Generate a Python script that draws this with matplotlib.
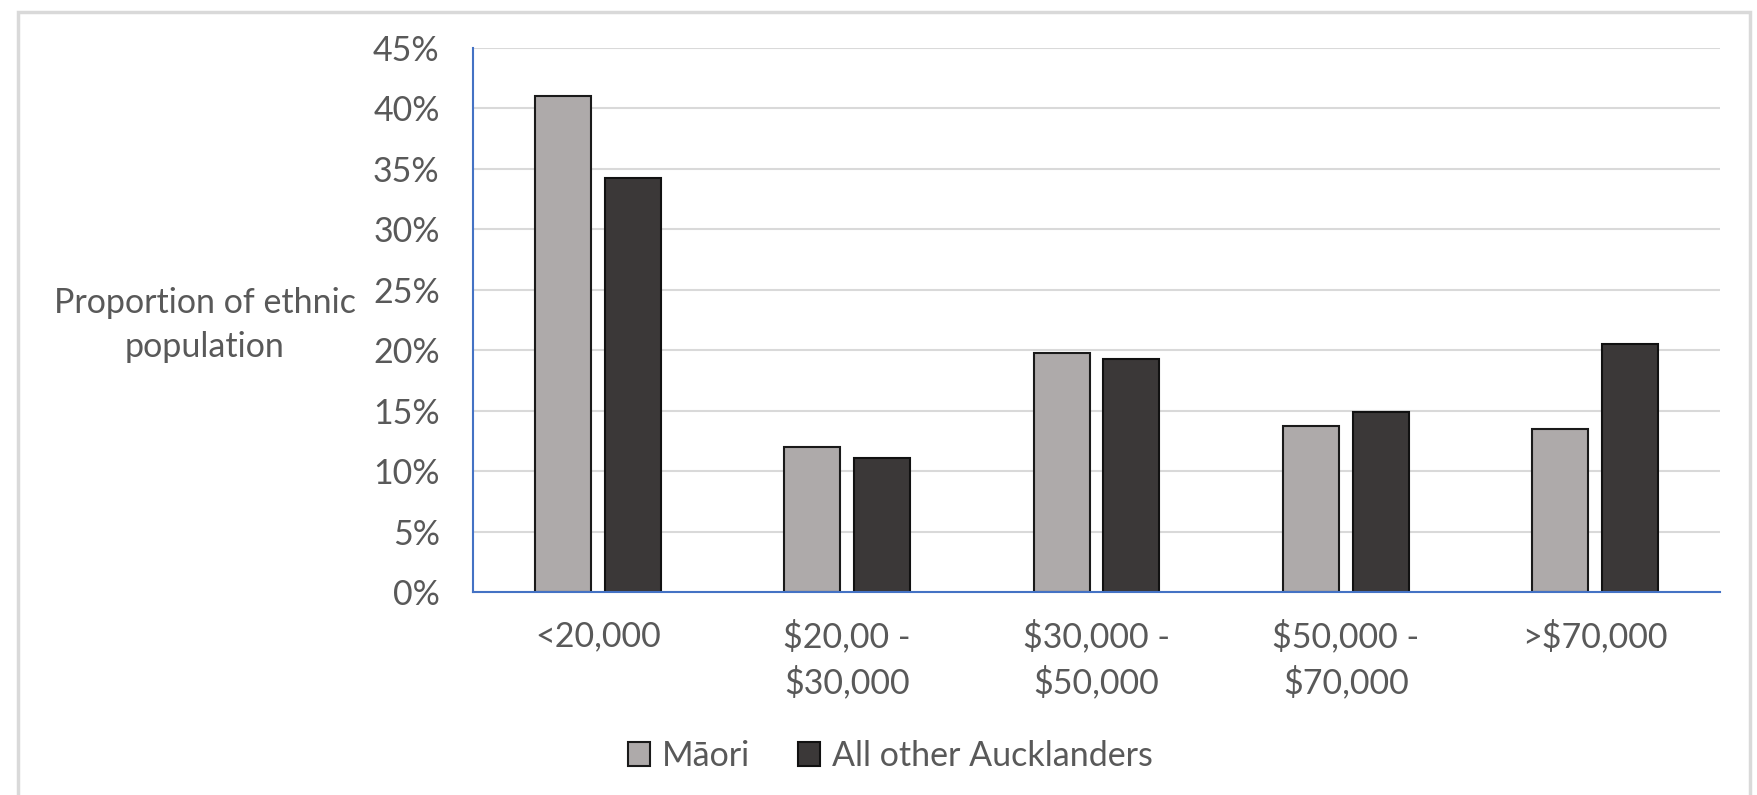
import matplotlib
matplotlib.use("Agg")
import matplotlib.pyplot as plt
import numpy as np
from matplotlib.patches import Rectangle, Patch

categories = ["<20,000", "$20,00 -\n$30,000", "$30,000 -\n$50,000", "$50,000 -\n$70,000", ">$70,000"]
maori = [41.0, 12.0, 19.8, 13.75, 13.5]
others = [34.2, 11.1, 19.3, 14.9, 20.5]
series_names = ["Māori", "All other Aucklanders"]
yticks = [0, 5, 10, 15, 20, 25, 30, 35, 40, 45]

plt.rcParams['font.family'] = ['Lato', 'DejaVu Sans']
txt = "#595959"
fs = 24.5

fig = plt.figure(figsize=(17.58, 7.95), dpi=100)
ax = fig.add_axes([473/1758, 1-592/795, (1720-473)/1758, (592-47.7)/795])

x = np.arange(len(categories))
w = 0.225
off = 0.14
ax.bar(x - off, maori, w, color="#aeaaaa", edgecolor="#1a1a1a", linewidth=1.5, label=series_names[0], zorder=3)
ax.bar(x + off, others, w, color="#3b3838", edgecolor="#111111", linewidth=1.5, label=series_names[1], zorder=3)

ax.set_xlim(-0.5, len(categories) - 0.5)
ax.set_ylim(0, 45)
ax.set_yticks(yticks)
ax.set_yticklabels([f"{v}%" for v in yticks])
ax.set_xticks(x)
ax.set_xticklabels(categories, linespacing=1.45)
ax.tick_params(axis='both', length=0, labelsize=fs, labelcolor=txt)
ax.tick_params(axis='y', pad=24)
ax.tick_params(axis='x', pad=20)
ax.grid(axis='y', color="#d9d9d9", linewidth=1.5, zorder=0)
ax.set_axisbelow(True)
for s in ["top", "right"]:
    ax.spines[s].set_visible(False)
for s in ["left", "bottom"]:
    ax.spines[s].set_color("#4472c4")
    ax.spines[s].set_linewidth(1.5)
    ax.spines[s].set_zorder(4)

fig.text(205/1758, 1-325/795, "Proportion of ethnic\npopulation", ha="center", va="center",
         fontsize=fs, color=txt, linespacing=1.45)

handles = [Patch(facecolor="#aeaaaa", edgecolor="#1a1a1a", linewidth=1.5),
           Patch(facecolor="#3b3838", edgecolor="#111111", linewidth=1.5)]
fig.legend(handles, series_names, loc="center", bbox_to_anchor=(890/1758, 1-756/795), ncol=2,
           frameon=False, fontsize=fs, labelcolor=txt, handlelength=0.67, handleheight=0.67,
           handletextpad=0.33, columnspacing=1.4, borderpad=0.0)

fig.patches.append(Rectangle((18/1758, -0.1), (1750-18)/1758, 1.1 - 11.7/795, transform=fig.transFigure,
                             fill=False, edgecolor="#d9d9d9", linewidth=2.5))

fig.savefig("out.png", dpi=100)
